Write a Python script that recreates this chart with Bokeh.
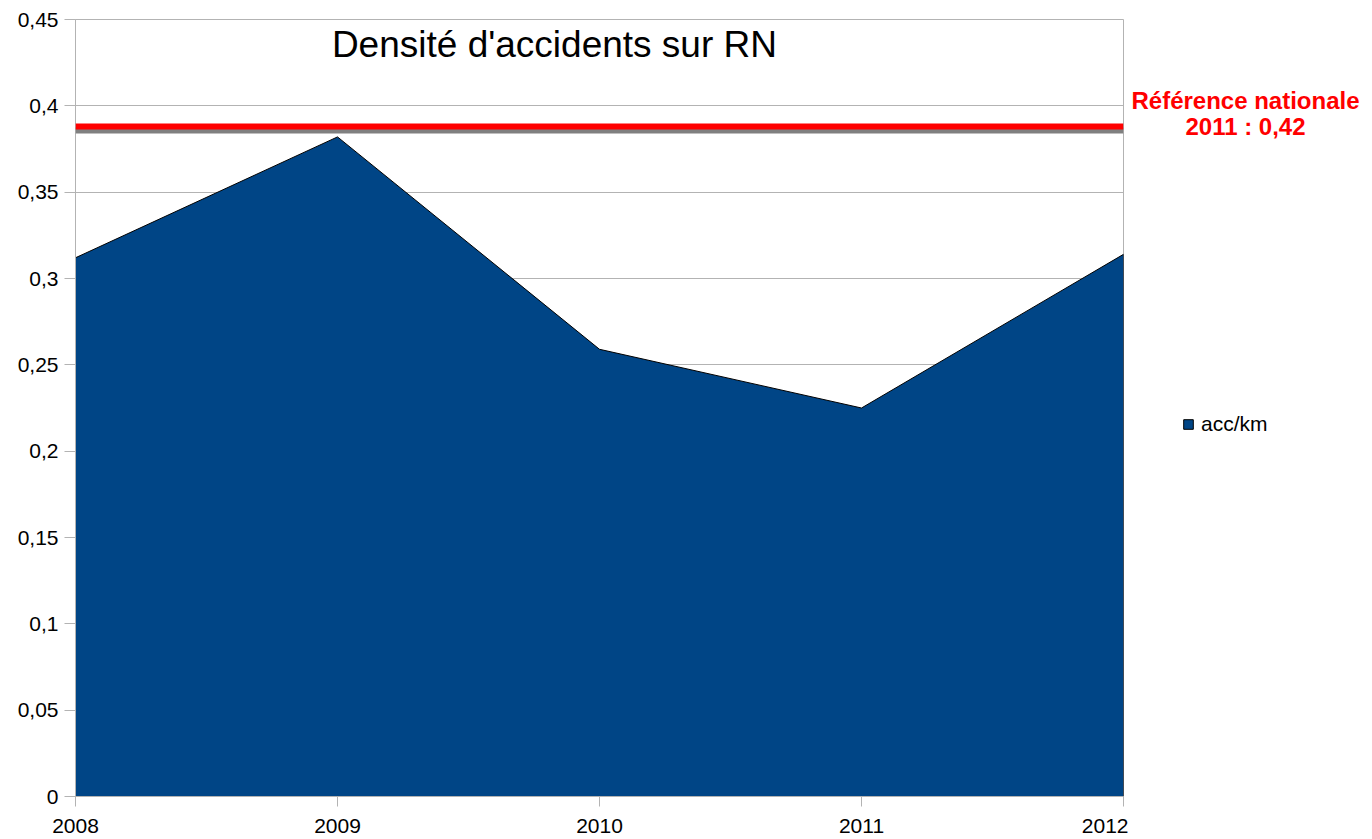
from bokeh.plotting import figure
from bokeh.models import Range1d, Label, Arrow, Legend, LegendItem, FixedTicker
from bokeh.core.properties import value
from bokeh.layouts import row
from bokeh.embed import file_html
from bokeh.resources import INLINE

# ---- data ----
years = [2008, 2009, 2010, 2011, 2012]
acc_per_km = [0.312, 0.382, 0.259, 0.225, 0.314]
series_name = "acc/km"
title_text = "Densité d'accidents sur RN"
ref_value = 0.388
ref_text_1 = "Référence nationale"
ref_text_2 = "2011 : 0,42"
y_ticks = [0, 0.05, 0.1, 0.15, 0.2, 0.25, 0.3, 0.35, 0.4, 0.45]
y_tick_labels = ["0", "0,05", "0,1", "0,15", "0,2", "0,25", "0,3", "0,35", "0,4", "0,45"]
x_tick_labels = ["2008", "2009", "2010", "2011", "2012"]

FONT = "Liberation Sans"
GRID = "#b3b3b3"
AREA = "#004586"

# ---- main chart ----
p = figure(output_backend="svg", toolbar_location=None,
           frame_width=1048, frame_height=777,
           min_border_left=75, min_border_right=5, min_border_top=19, min_border_bottom=42,
           x_range=Range1d(years[0], years[-1]), y_range=Range1d(0, 0.45))
p.outline_line_color = GRID
p.background_fill_color = "white"

xs = list(years) + list(reversed(years))
ys = list(acc_per_km) + [0] * len(years)
area = p.patch(xs, ys, fill_color=AREA, line_color="#000000", line_width=1)

p.xaxis.ticker = FixedTicker(ticks=years)
p.xaxis.major_label_overrides = {y: l for y, l in zip(years, x_tick_labels)}
p.yaxis.ticker = FixedTicker(ticks=y_ticks)
p.yaxis.major_label_overrides = {t: l for t, l in zip(y_ticks, y_tick_labels)}
for ax in (p.xaxis[0], p.yaxis[0]):
    ax.axis_line_color = GRID
    ax.major_tick_line_color = GRID
    ax.minor_tick_line_color = None
    ax.major_tick_in = 0
    ax.major_label_text_font = FONT
    ax.major_label_text_font_size = "21px"
    ax.major_label_text_color = "#000000"
p.xaxis.major_tick_out = 10
p.xaxis.major_label_standoff = 12
p.yaxis.major_tick_out = 11
p.yaxis.major_label_standoff = 6
p.xgrid.grid_line_color = None
p.ygrid.grid_line_color = GRID
p.ygrid.ticker = FixedTicker(ticks=y_ticks)

# reference line with grey shadow
px_per_unit = 777 / 0.45
shadow = Arrow(end=None, x_start=years[0], x_end=years[-1],
               y_start=ref_value - 4 / px_per_unit, y_end=ref_value - 4 / px_per_unit,
               line_color="#808080", line_width=6)
red = Arrow(end=None, x_start=years[0], x_end=years[-1],
            y_start=ref_value, y_end=ref_value, line_color="#ff0000", line_width=6)
p.add_layout(shadow)
p.add_layout(red)

p.add_layout(Label(x=2009.828, y=0.4355, text=title_text, text_align="center",
                   text_baseline="middle", text_font=FONT, text_font_size="37px",
                   text_color="#000000"))

# ---- right-hand side panel: reference text and legend ----
p2 = figure(output_backend="svg", toolbar_location=None, width=236, height=838,
            x_range=Range1d(1128, 1364), y_range=Range1d(838, 0), min_border=0,
            x_axis_location=None, y_axis_location=None)
p2.grid.grid_line_color = None
p2.outline_line_color = None
p2.background_fill_color = "white"
p2.border_fill_color = "white"

p2.text(x=[1245, 1245], y=[87, 115], text=[ref_text_1, ref_text_2],
        text_align="center", text_baseline="middle", text_font=value(FONT),
        text_font_size="24px", text_font_style="bold", text_color="#ff0000")

# legend key: same series, drawn through this panel's scales (falls outside its view)
key = p2.patch(xs, ys, fill_color=AREA, line_color="#000000", line_width=1)
legend = Legend(items=[LegendItem(label=series_name, renderers=[key])],
                location=(54, 360), padding=0, margin=0, spacing=0,
                glyph_width=12, glyph_height=12, label_height=12, label_standoff=7,
                border_line_alpha=0, background_fill_alpha=0,
                label_text_font=FONT, label_text_font_size="21px", label_text_color="#000000")
p2.add_layout(legend)

open("out.html", "w").write(file_html(row(p, p2), INLINE))
